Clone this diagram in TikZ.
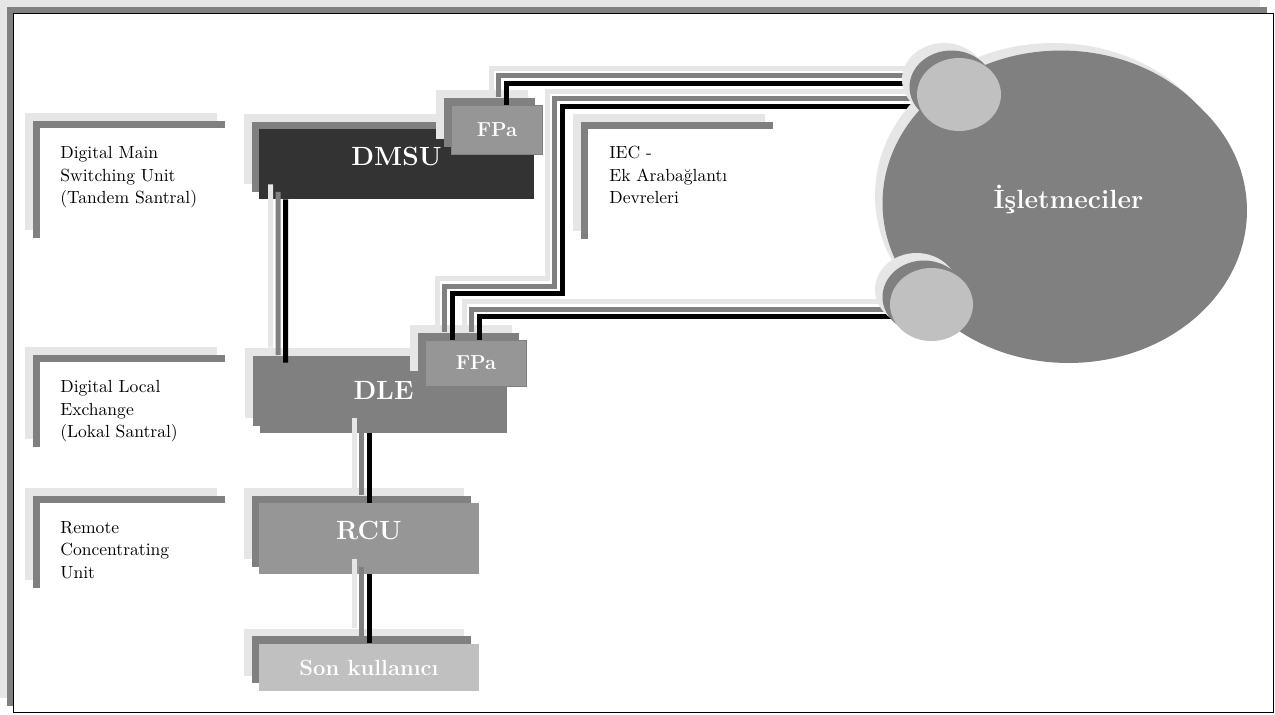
\documentclass[tikz,border=0pt]{standalone}
\usepackage{fontspec}
\usepackage{tikz}
\usetikzlibrary{positioning,shapes.geometric,shadows}

\definecolor{shLight}{HTML}{E6E6E6}
\definecolor{shMid}{HTML}{808080}
\definecolor{boxDark}{HTML}{333333}
\definecolor{boxGray}{HTML}{969696}
\definecolor{boxPale}{HTML}{C0C0C0}

% one link = two grey shadow copies + the black line
\newcommand{\wire}[1]{%
  \draw[wire, shLight, transform canvas={shift={(-0.3cm,0.3cm)}}] #1;
  \draw[wire, shMid, transform canvas={shift={(-0.15cm,0.15cm)}}] #1;
  \draw[wire, black] #1;}

\begin{document}
\begin{tikzpicture}[
    x=0.02cm, y=-0.02cm,
    layered/.style={
      copy shadow={shadow xshift=-0.3cm, shadow yshift=0.3cm, fill=shLight, draw=none},
      copy shadow={shadow xshift=-0.15cm, shadow yshift=0.15cm, fill=shMid, draw=none}},
    unit/.style={rectangle, layered, inner sep=0pt, text=white, font=\bfseries\fontsize{15pt}{15pt}\selectfont, text height=0.3cm, text depth=0.26cm},
    port/.style={rectangle, layered, inner sep=0pt, fill=boxGray, draw=shMid, line width=0.02cm, text=white, font=\bfseries\fontsize{11.5pt}{11.5pt}\selectfont},
    tag/.style={rectangle, layered, fill=white, inner sep=0pt, minimum width=3.84cm, anchor=north west},
    note/.style={align=left, inner sep=0pt, font=\fontsize{10pt}{12.8pt}\selectfont},
    disc/.style={ellipse, layered, inner sep=0pt},
    wire/.style={line width=0.1cm}
]
\useasboundingbox (0,0) rectangle (1275,714);
% page frame
\fill[shLight] (0,0) rectangle (1260,698);
\fill[shMid] (6.5,6.5) rectangle (1267,706);
\draw[fill=white, line width=0.03cm] (13.5,13.5) rectangle (1273.5,712.5);

% exchanges
\node[unit, fill=boxDark, minimum width=5.5cm, minimum height=1.4cm] (dmsu) at (396.5,164) {DMSU};
\node[port, minimum width=1.84cm, minimum height=0.98cm] (fpaTop) at (497,129.5) {FPa};
\node[unit, fill=shMid, minimum width=4.94cm, minimum height=1.4cm] (dle) at (383.5,398) {DLE};
\node[port, minimum width=2.04cm, minimum height=0.92cm] (fpaBot) at (476,363) {FPa};
\node[unit, fill=boxGray, minimum width=4.4cm, minimum height=1.42cm] (rcu) at (369,538.5) {RCU};
\node[unit, fill=boxPale, font=\bfseries\fontsize{12.5pt}{12.5pt}\selectfont, text height=0.34cm, text depth=0pt,
      minimum width=4.4cm, minimum height=0.94cm, below=1.38cm of rcu] (son) {Son kullanıcı};

% side notes
\node[tag, minimum height=2.34cm] (dmsuTag) at (40,128) {};
\node[tag, minimum height=1.84cm] (dleTag) at (40,362) {};
\node[tag, minimum height=1.84cm] (rcuTag) at (40,503) {};
\node[tag, minimum height=2.34cm] (iecTag) at (588,129) {};
\node[note, below right=0.36cm and 0.4cm of dmsuTag.north west] (dmsuNote) {Digital Main\\Switching Unit\\(Tandem Santral)};
\node[note, below right=0.36cm and 0.4cm of dleTag.north west] (dleNote) {Digital Local\\Exchange\\(Lokal Santral)};
\node[note, below right=0.36cm and 0.4cm of rcuTag.north west] (rcuNote) {Remote\\Concentrating\\Unit};
\node[note, below right=0.34cm and 0.42cm of iecTag.north west] (iecNote) {IEC -\\Ek Arabağlantı\\Devreleri};

% links
\coordinate (topHub) at (959,94.5);
\coordinate (botHub) at (931.5,304.5);
\wire{([xshift=0.54cm]dmsu.south west) -- ([xshift=0.52cm]dle.north west)}
\wire{(rcu.north |- dle.south) -- (rcu.north)}
\wire{(rcu.south) -- (son.north)}
\wire{([xshift=0.18cm]fpaTop.north) |- ([yshift=0.23cm]topHub)}
\wire{([xshift=-0.48cm]fpaBot.north) -- ++(0,-46) -- ++(110,0) |- ([yshift=-0.23cm]topHub)}
\wire{([xshift=0.06cm]fpaBot.north) |- ([yshift=-0.24cm]botHub)}

% operators
\node[disc, fill=shMid, minimum width=7.14cm, minimum height=6.1cm, text=white,
      font=\bfseries\fontsize{15pt}{15pt}\selectfont, text height=0.2cm, text depth=0.3cm] (operators) at (1068.5,210.5) {İşletmeciler};
\node[disc, fill=boxPale, minimum width=1.68cm, minimum height=1.46cm] (topDisc) at (topHub) {};
\node[disc, fill=boxPale, minimum width=1.66cm, minimum height=1.46cm] (botDisc) at (botHub) {};
\end{tikzpicture}
\end{document}
